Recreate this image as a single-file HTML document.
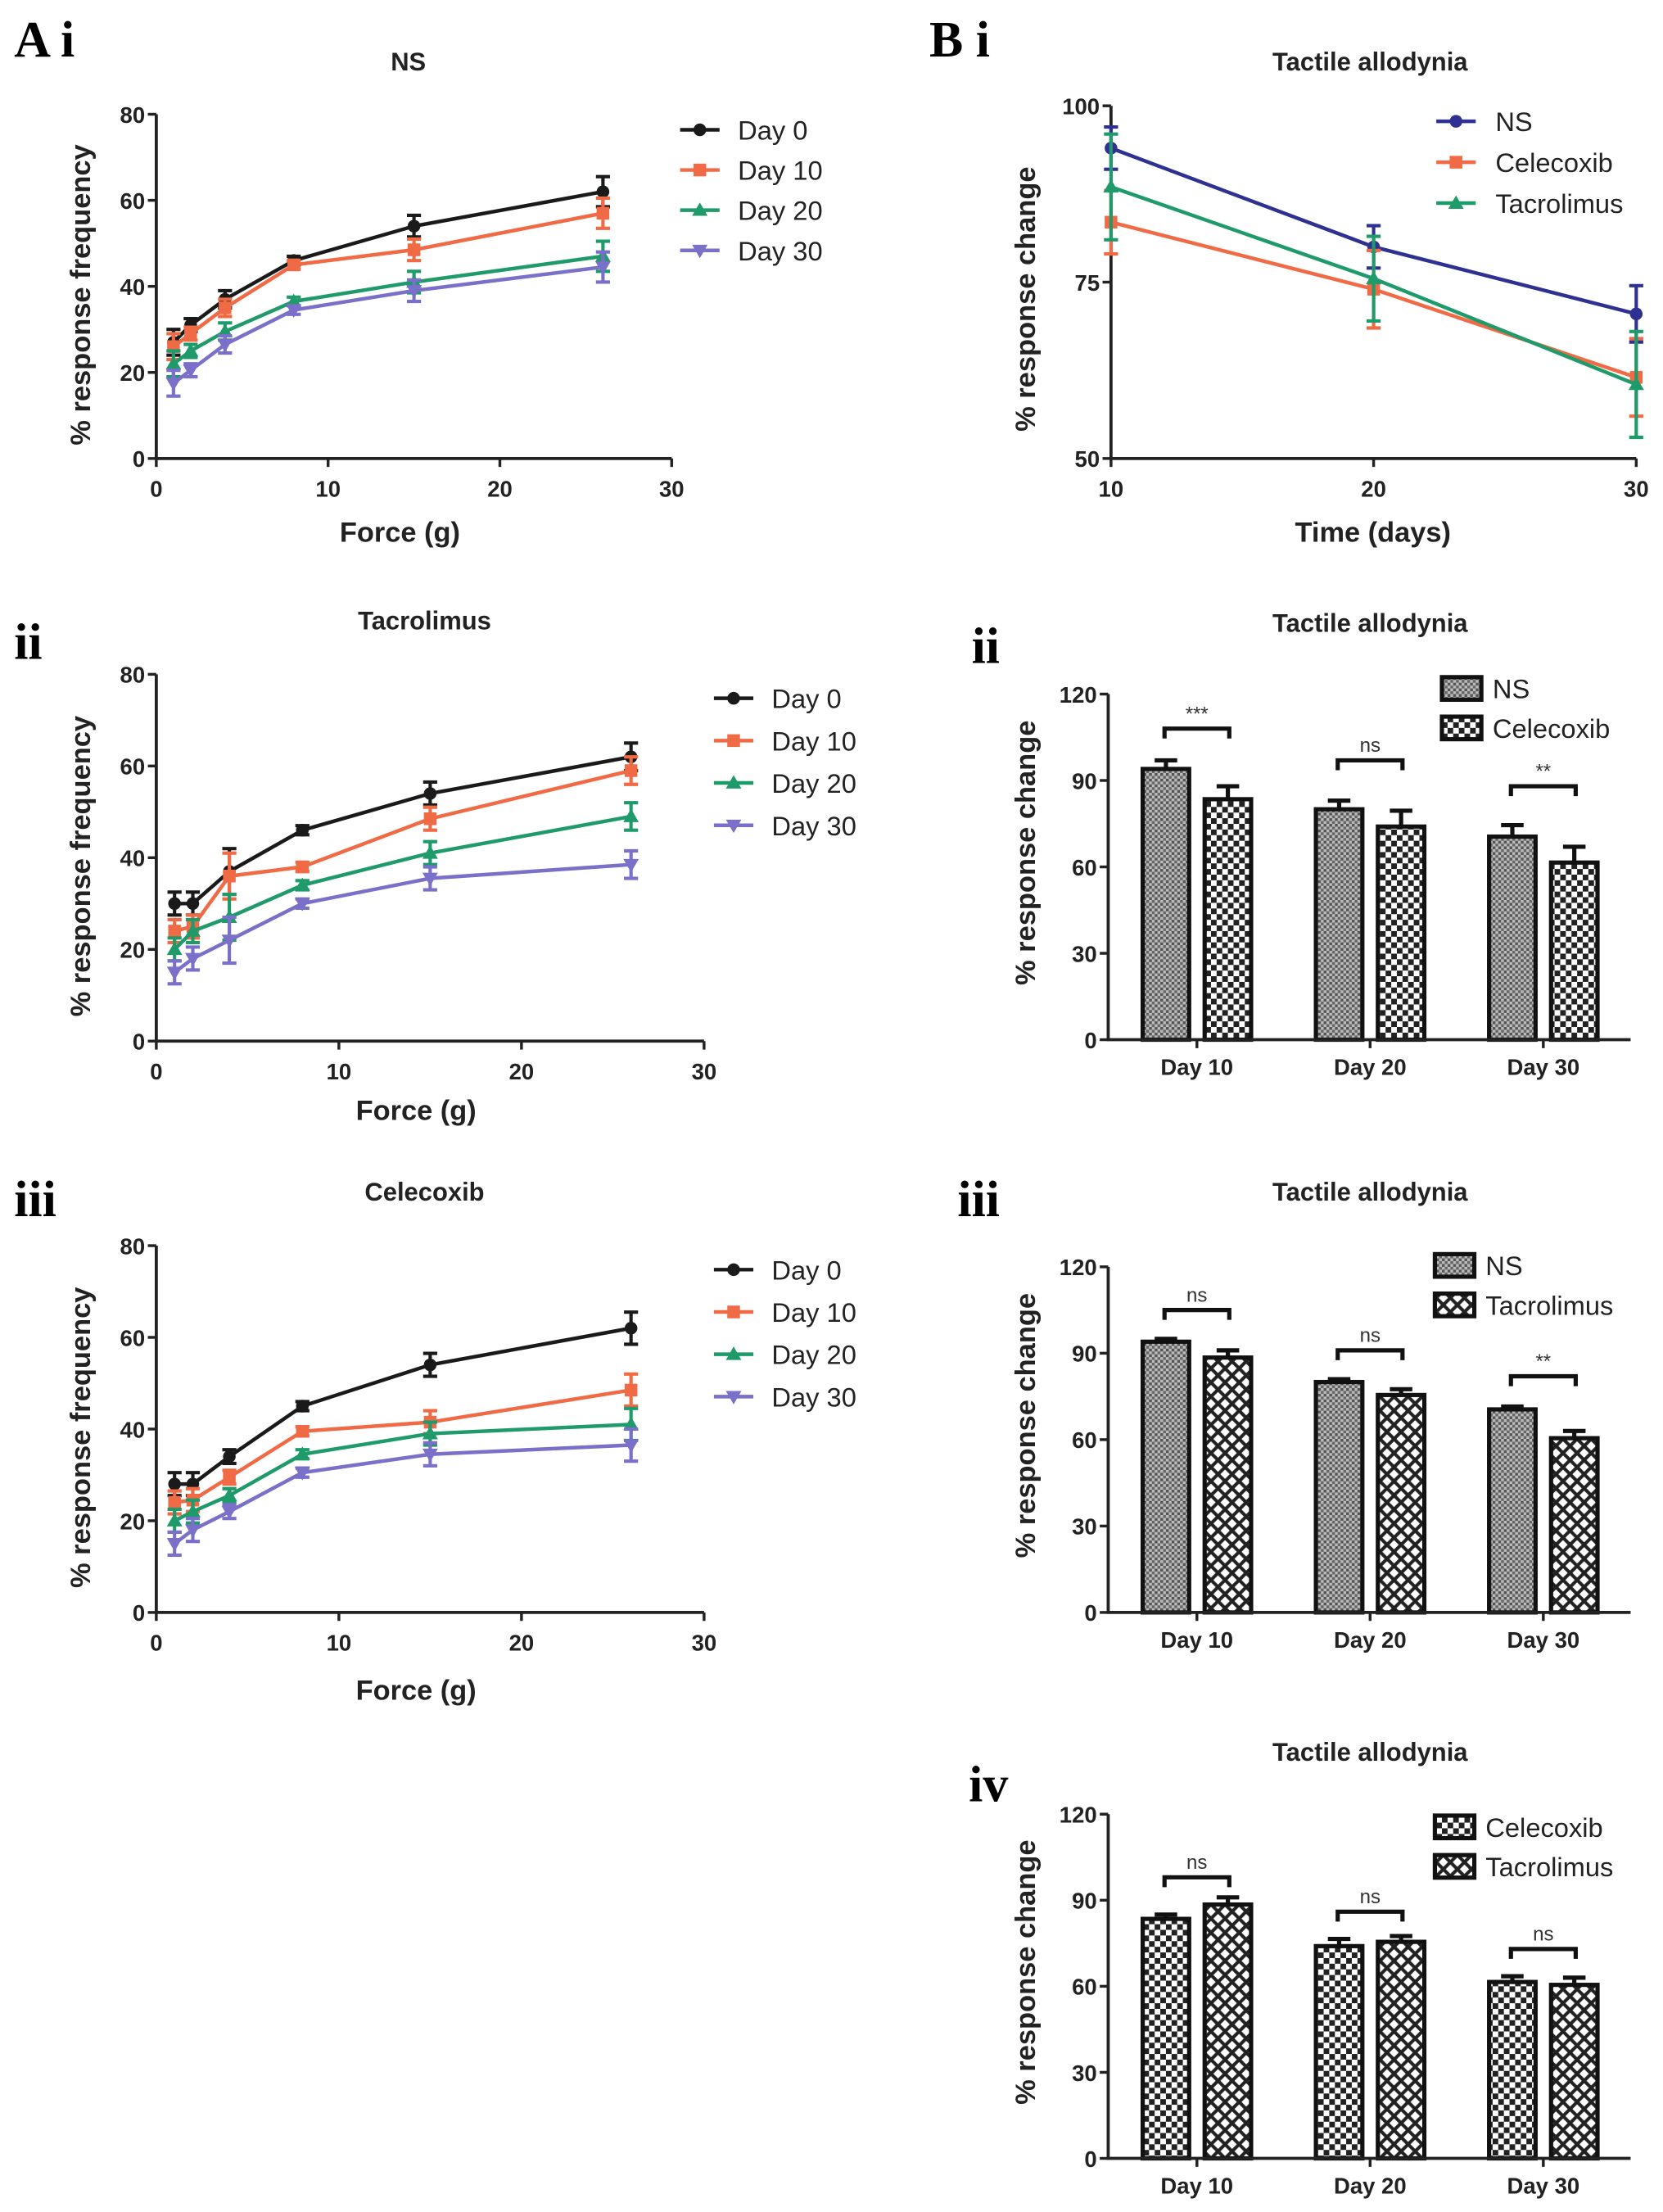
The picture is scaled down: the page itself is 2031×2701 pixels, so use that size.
<!DOCTYPE html>
<html><head><meta charset="utf-8"><style>
html,body{margin:0;padding:0;background:#fff;}
svg{display:block;font-family:"Liberation Sans Narrow","Liberation Sans",sans-serif;}
.lbl{font-family:"Liberation Serif",serif;font-weight:bold;font-size:36px;}
.tick{font-weight:bold;font-size:16px;fill:#222;}
.ttl{font-weight:bold;font-size:18px;fill:#222;}
.axt{font-weight:bold;font-size:20px;fill:#222;font-family:"Liberation Sans",sans-serif;}
.leg{font-size:19px;fill:#222;}
</style></head><body>
<svg id="fig" width="2031" height="2701" viewBox="0 0 1181 1568" preserveAspectRatio="none" xmlns="http://www.w3.org/2000/svg">
<defs>
<pattern id="pNS" width="4" height="4" patternUnits="userSpaceOnUse"><rect width="4" height="4" fill="#bbb"/><rect width="2" height="2" fill="#555"/><rect x="2" y="2" width="2" height="2" fill="#666"/></pattern>
<pattern id="pCel" width="8" height="8" patternUnits="userSpaceOnUse"><rect width="8" height="8" fill="#fff"/><rect width="4" height="4" fill="#222"/><rect x="4" y="4" width="4" height="4" fill="#222"/></pattern>
<pattern id="pTac" width="10" height="10" patternUnits="userSpaceOnUse"><rect width="10" height="10" fill="#fff"/><path d="M0,0L10,10M10,0L0,10" stroke="#222" stroke-width="2.4"/></pattern>
</defs>
<text class="lbl" x="10" y="40">A i</text>
<text class="lbl" x="660" y="40">B i</text>
<text class="lbl" x="10" y="467">ii</text>
<text class="lbl" x="10" y="862">iii</text>
<text class="lbl" x="690" y="470">ii</text>
<text class="lbl" x="680" y="862">iii</text>
<text class="lbl" x="688" y="1277">iv</text>
</svg>
<script>
const forces=[1,2,4,8,15,26];
const dayLabels=["Day 0","Day 10","Day 20","Day 30"];
const nsDay0=[27,31,37,46,54,62];
const nsDay10=[26,29,35,45,48.5,57];
const nsDay20=[22,25,29.5,36.5,41,47];
const nsDay30=[17.5,20.5,26.5,34.5,39,44.5];
const nsErr=[3,1.5,2,1,2.5,3.5];
const tacDay0=[30,30,37,46,54,62];
const tacDay10=[24,25,36,38,48.5,59];
const tacDay20=[20,24,27,34,41,49];
const tacDay30=[15,18,22,30,35.5,38.5];
const tacErr=[2.5,2.5,5,1,2.5,3];
const celDay0=[28,28,34,45,54,62];
const celDay10=[24,24.5,29.5,39.5,41.5,48.5];
const celDay20=[20,22,25.5,34.5,39,41];
const celDay30=[15,18,22,30.5,34.5,36.5];
const celErr=[2.5,2.5,1.5,1,2.5,3.5];
const forceTicks=[0,10,20,30];
const freqTicks=[0,20,40,60,80];
const timeDays=[10,20,30];
const timeTicks=[10,20,30];
const changeTicksLine=[50,75,100];
const nsChange=[94,80,70.5];
const nsChangeErr=[3,3,4];
const celChange=[83.5,74,61.5];
const celChangeErr=[4.5,5.5,5.5];
const tacChange=[88.5,75.5,60.5];
const tacChangeErr=[2.5,2,2.5];
const groupLabels=["Day 10","Day 20","Day 30"];
const barTicks=[0,30,60,90,120];
const sigNsCel=["***","ns","**"];
const sigNsCelLevel=[108,97,88];
const sigNsTac=["ns","ns","**"];
const sigNsTacLevel=[105,91,82];
const sigCelTac=["ns","ns","ns"];
const sigCelTacLevel=[98,86,73];

const NS="http://www.w3.org/2000/svg";
const svg=document.getElementById('fig');
function el(tag,attrs,parent){const e=document.createElementNS(NS,tag);for(const k in attrs)e.setAttribute(k,attrs[k]);(parent||svg).appendChild(e);return e;}
function txt(str,attrs,parent){const e=el('text',attrs,parent);e.textContent=str;return e;}
function marker(g,type,x,y,c){
  if(type==='circle')return el('circle',{cx:x,cy:y,r:4.5,fill:c},g);
  if(type==='square')return el('rect',{x:x-4.5,y:y-4.5,width:9,height:9,fill:c},g);
  if(type==='up')return el('path',{d:`M${x},${y-5.5}L${x+5.5},${y+4}L${x-5.5},${y+4}Z`,fill:c},g);
  return el('path',{d:`M${x},${y+5.5}L${x+5.5},${y-4}L${x-5.5},${y-4}Z`,fill:c},g);
}
const cols=["#1a1a1a","#f06a45","#1f9a6b","#7a6fc9"];
const types=["circle","square","up","down"];

function forcePanel(name,title,X0,X1,Y0,Y1,series,err,legX,legY,legDy,titleY,xlabY){
  const g=el('g',{});
  
  
  const sx=v=>X0+(X1-X0)*v/30, sy=v=>Y0-(Y0-Y1)*v/80;
  const t=txt(title,{x:(X0+X1)/2-4,y:titleY,'text-anchor':'middle',class:'ttl'},g);
  
  
  el('path',{d:`M${X0},${Y1}V${Y0}H${X1}`,stroke:'#222','stroke-width':2.2,fill:'none'},g);
  forceTicks.forEach(v=>{el('line',{x1:sx(v),x2:sx(v),y1:Y0,y2:Y0+6,stroke:'#222','stroke-width':2},g);
    const l=txt(v,{x:sx(v),y:Y0+27,'text-anchor':'middle',class:'tick'},g);
    });
  freqTicks.forEach(v=>{el('line',{x1:X0-6,x2:X0,y1:sy(v),y2:sy(v),stroke:'#222','stroke-width':2},g);
    const l=txt(v,{x:X0-8,y:sy(v)+6,'text-anchor':'end',class:'tick'},g);
    });
  const xl=txt('Force (g)',{x:(X0+X1)/2-10,y:xlabY,'text-anchor':'middle',class:'axt'},g);
  
  const yc=(Y0+Y1)/2+6;
  const yl=txt('% response frequency',{x:64,y:yc,'text-anchor':'middle',class:'axt',transform:`rotate(-90 64 ${yc})`},g);
  
  series.forEach((s,i)=>{
    const sg=el('g',{},g);
    
    
    el('polyline',{points:s.map((v,j)=>sx(forces[j])+','+sy(v)).join(' '),fill:'none',stroke:cols[i],'stroke-width':2.6},sg);
    s.forEach((v,j)=>{const x=sx(forces[j]);const e=err[j];
      el('path',{d:`M${x},${sy(v-e)}V${sy(v+e)}M${x-5},${sy(v+e)}H${x+5}M${x-5},${sy(v-e)}H${x+5}`,stroke:cols[i],'stroke-width':2.4},sg);
      marker(sg,types[i],x,sy(v),cols[i]);});
    const ly=legY+i*legDy;
    const lg=el('g',{},g);
    
    
    el('line',{x1:legX,x2:legX+28,y1:ly,y2:ly,stroke:cols[i],'stroke-width':2.6},lg);
    marker(lg,types[i],legX+14,ly,cols[i]);
    txt(dayLabels[i],{x:legX+41,y:ly+7,class:'leg'},lg);
  });
}
forcePanel('chart-ns','NS',111,477,325,81,[nsDay0,nsDay10,nsDay20,nsDay30],nsErr,483,92,28.5,50,384);
forcePanel('chart-tacrolimus','Tacrolimus',111,500,738,478,[tacDay0,tacDay10,tacDay20,tacDay30],tacErr,507,495,30,446,794);
forcePanel('chart-celecoxib','Celecoxib',111,500,1143,883,[celDay0,celDay10,celDay20,celDay30],celErr,507,900,30,851,1205);

// B i line chart
(function(){
  const X0=789,X1=1162,Y0=325,Y1=75;
  const sx=v=>X0+(X1-X0)*(v-10)/20, sy=v=>Y0-(Y0-Y1)*(v-50)/50;
  const g=el('g',{});
  
  
  const t=txt('Tactile allodynia',{x:973,y:50,'text-anchor':'middle',class:'ttl'},g);
  
  el('path',{d:`M${X0},${Y1}V${Y0}H${X1}`,stroke:'#222','stroke-width':2.2,fill:'none'},g);
  timeTicks.forEach(v=>{el('line',{x1:sx(v),x2:sx(v),y1:Y0,y2:Y0+6,stroke:'#222','stroke-width':2},g);
    const l=txt(v,{x:sx(v),y:Y0+27,'text-anchor':'middle',class:'tick'},g);
    });
  changeTicksLine.forEach(v=>{el('line',{x1:X0-6,x2:X0,y1:sy(v),y2:sy(v),stroke:'#222','stroke-width':2},g);
    const l=txt(v,{x:X0-8,y:sy(v)+6,'text-anchor':'end',class:'tick'},g);
    });
  const xl=txt('Time (days)',{x:975,y:384,'text-anchor':'middle',class:'axt'},g);
  
  const yl=txt('% response change',{x:735,y:212,'text-anchor':'middle',class:'axt',transform:'rotate(-90 735 212)'},g);
  
  const ser=[[nsChange,nsChangeErr,'#2e3192','circle','NS'],[celChange,celChangeErr,'#f06a45','square','Celecoxib'],[tacChange,tacChangeErr.map(e=>e*3),'#1f9a6b','up','Tacrolimus']];
  ser.forEach((s,i)=>{
    const sg=el('g',{},g);
    
    
    el('polyline',{points:s[0].map((v,j)=>sx(timeDays[j])+','+sy(v)).join(' '),fill:'none',stroke:s[2],'stroke-width':2.6},sg);
    s[0].forEach((v,j)=>{const x=sx(timeDays[j]),e=s[1][j];
      el('path',{d:`M${x},${sy(v-e)}V${sy(v+e)}M${x-5},${sy(v+e)}H${x+5}M${x-5},${sy(v-e)}H${x+5}`,stroke:s[2],'stroke-width':2.4},sg);
      marker(sg,s[3],x,sy(v),s[2]);});
    const ly=86+i*29;
    const lg=el('g',{},g);
    
    
    el('line',{x1:1020,x2:1048,y1:ly,y2:ly,stroke:s[2],'stroke-width':2.6},lg);
    marker(lg,s[3],1034,ly,s[2]);
    txt(s[4],{x:1062,y:ly+7,class:'leg'},lg);
  });
})();

function barPanel(name,Y0,Y1,titleY,a,aErr,aPat,aName,b,bErr,bPat,bName,sig,sigLvl,legX,legY){
  const X0=787,X1=1158;
  const centers=[850,973,1096];
  const sy=v=>Y0-(Y0-Y1)*v/120;
  const g=el('g',{});
  
  
  const t=txt('Tactile allodynia',{x:973,y:titleY,'text-anchor':'middle',class:'ttl'},g);
  
  barTicks.forEach(v=>{el('line',{x1:X0-6,x2:X0,y1:sy(v),y2:sy(v),stroke:'#222','stroke-width':2},g);
    const l=txt(v,{x:X0-8,y:sy(v)+6,'text-anchor':'end',class:'tick'},g);
    });
  const yc=(Y0+Y1)/2-10;
  const yl=txt('% response change',{x:735,y:yc,'text-anchor':'middle',class:'axt',transform:`rotate(-90 735 ${yc})`},g);
  
  const w=33;
  groupLabels.forEach((lab,i)=>{
    const c=centers[i];
    [[a,aErr,aPat,aName,c-22],[b,bErr,bPat,bName,c+22]].forEach(s=>{
      const v=s[0][i],e=s[1][i],x=s[4];
      const r=el('rect',{x:x-w/2,y:sy(v),width:w,height:Y0-sy(v),fill:`url(#${s[2]})`,stroke:'#111','stroke-width':3},g);
      
      
      el('path',{d:`M${x},${sy(v)}V${sy(v+e)}M${x-8},${sy(v+e)}H${x+8}`,stroke:'#111','stroke-width':3},g);
    });
    el('line',{x1:c,x2:c,y1:Y0,y2:Y0+6,stroke:'#222','stroke-width':2},g);
    const l=txt(lab,{x:c,y:Y0+25,'text-anchor':'middle',class:'tick'},g);
    
    const by=sy(sigLvl[i]);
    el('path',{d:`M${c-23},${by+7}V${by}H${c+23}V${by+7}`,stroke:'#111','stroke-width':3,fill:'none'},g);
    const s=txt(sig[i],{x:c,y:by-6,'text-anchor':'middle',style:'font-size:14px;fill:#333'},g);
    
  });
  el('path',{d:`M${X0},${Y1}V${Y0}H${X1}`,stroke:'#222','stroke-width':2.2,fill:'none'},g);
  [[aPat,aName],[bPat,bName]].forEach((s,i)=>{
    const ly=legY+i*28;
    const lg=el('g',{},g);
    
    
    el('rect',{x:legX,y:ly-8,width:28,height:16,fill:`url(#${s[0]})`,stroke:'#111','stroke-width':3},lg);
    txt(s[1],{x:legX+36,y:ly+7,class:'leg'},lg);
  });
}
barPanel('chart-ns-vs-celecoxib',737,492,448,nsChange,nsChangeErr,'pNS','NS',celChange,celChangeErr,'pCel','Celecoxib',sigNsCel,sigNsCelLevel,1024,488);
barPanel('chart-ns-vs-tacrolimus',1143,898,851,nsChange,[1,1,1],'pNS','NS',tacChange,tacChangeErr,'pTac','Tacrolimus',sigNsTac,sigNsTacLevel,1019,897);
barPanel('chart-celecoxib-vs-tacrolimus',1530,1286,1248,celChange,[1.5,2.5,2],'pCel','Celecoxib',tacChange,tacChangeErr,'pTac','Tacrolimus',sigCelTac,sigCelTacLevel,1019,1295);
</script>
</body></html>
